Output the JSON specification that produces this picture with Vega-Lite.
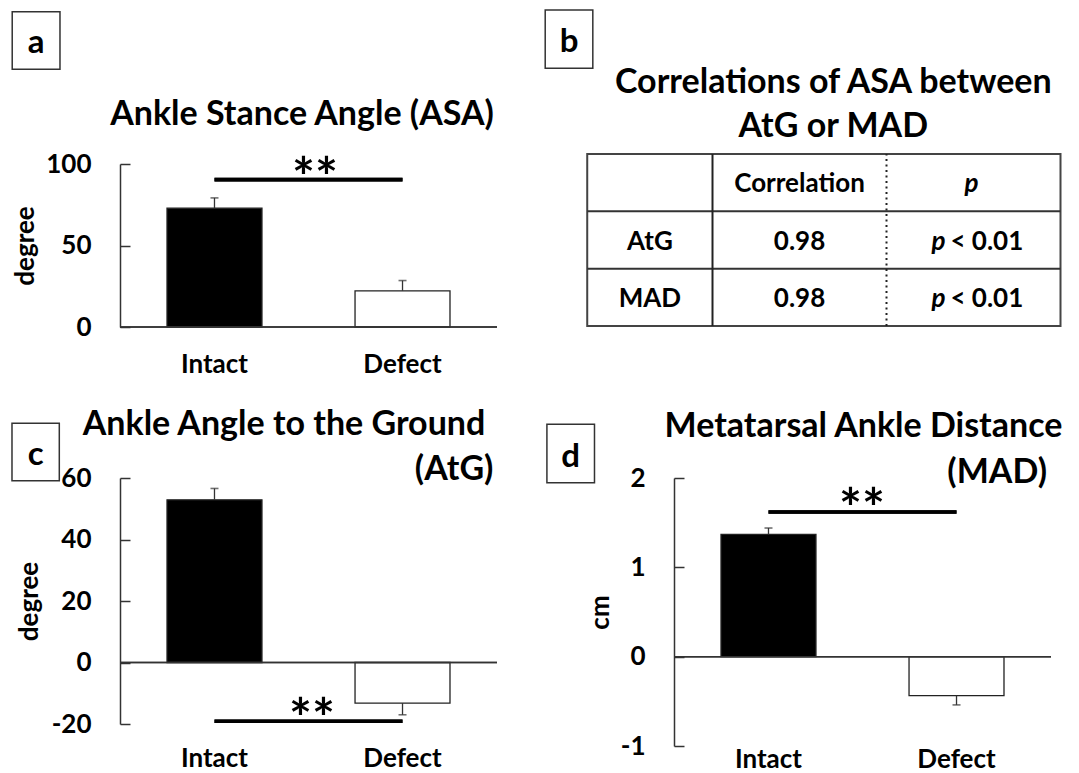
{
  "$schema": "https://vega.github.io/schema/vega-lite/v6.json",
  "background": "white",
  "padding": {"left": 11, "top": 9, "right": 0, "bottom": 0},
  "columns": 2,
  "bounds": "flush",
  "align": "each",
  "spacing": {"row": 151, "column": 177},
  "config": {
    "view": {"stroke": null},
    "font": "Lato",
    "text": {"font": "Lato", "fontWeight": "bold", "color": "black"},
    "axis": {
      "labelFont": "Lato", "labelFontWeight": "bold", "labelFontSize": 26, "labelColor": "black",
      "titleFont": "Lato", "titleFontWeight": "bold", "titleFontSize": 26, "titleColor": "black",
      "grid": false, "domainColor": "#333", "domainWidth": 1.5, "tickColor": "#333", "tickWidth": 1.5
    },
    "axisY": {"tickSize": -10, "labelPadding": 39, "titleBaseline": "alphabetic", "labelExpr": "'' + datum.value"},
    "axisX": {"domain": false, "ticks": false, "labelPadding": 24, "labelAngle": 0}
  },
  "datasets": {
    "asa": [
      {"group": "Intact", "mean": 72.9, "errEnd": 79.2},
      {"group": "Defect", "mean": 22.2, "errEnd": 28.5}
    ],
    "atg": [
      {"group": "Intact", "mean": 52.9, "errEnd": 56.6},
      {"group": "Defect", "mean": -13.2, "errEnd": -17.0}
    ],
    "mad": [
      {"group": "Intact", "mean": 1.37, "errEnd": 1.44},
      {"group": "Defect", "mean": -0.437, "errEnd": -0.54}
    ],
    "correlations": [
      {"row": "AtG", "metric": "AtG", "r": 0.98, "pSymbol": "p", "pValue": "< 0.01"},
      {"row": "MAD", "metric": "MAD", "r": 0.98, "pSymbol": "p", "pValue": "< 0.01"}
    ]
  },
  "concat": [
    {
      "width": 377, "height": 163,
      "layer": [
        {
          "data": {"name": "asa"},
          "layer": [
            {"mark": {"type": "bar", "stroke": "#222", "strokeWidth": 1.3},
             "encoding": {
               "x": {"field": "group", "type": "nominal", "sort": ["Intact", "Defect"], "scale": {"domain": ["Intact", "Defect"], "paddingInner": 0.495, "paddingOuter": 0.25}, "axis": {"title": null}},
               "y": {"field": "mean", "type": "quantitative", "scale": {"domain": [0, 100], "nice": false}, "axis": {"values": [0, 50, 100], "title": "degree", "titleX": -87}},
               "fill": {"field": "group", "type": "nominal", "scale": {"domain": ["Intact", "Defect"], "range": ["#000000", "#ffffff"]}, "legend": null}
             }},
            {"mark": {"type": "rule", "color": "#333", "strokeWidth": 1.3},
             "encoding": {"x": {"field": "group", "type": "nominal", "sort": ["Intact", "Defect"]}, "y": {"field": "mean", "type": "quantitative"}, "y2": {"field": "errEnd"}}},
            {"mark": {"type": "tick", "color": "#333", "thickness": 1.6, "size": 8},
             "encoding": {"x": {"field": "group", "type": "nominal", "sort": ["Intact", "Defect"]}, "y": {"field": "errEnd", "type": "quantitative"}}},
            {"mark": {"type": "rule", "color": "#333", "strokeWidth": 1.5}, "encoding": {"y": {"datum": 0}}},
            {"mark": {"type": "rule", "color": "black", "strokeWidth": 3.6},
             "encoding": {"x": {"datum": "Intact"}, "x2": {"datum": "Defect"}, "y": {"datum": 90.4}}}
          ]
        },
        {
          "data": {"values": [{"panel": "a", "title": "Ankle Stance Angle (ASA)", "sig": "**"}]},
          "layer": [
            {"mark": {"type": "rect", "fill": "white", "stroke": "#333", "strokeWidth": 1.5},
             "encoding": {
               "x": {"datum": -0.2859, "type": "quantitative", "scale": {"domain": [0, 1], "nice": false, "zero": false}, "axis": null},
               "x2": {"datum": -0.1592},
               "y": {"datum": 1.9344, "type": "quantitative", "scale": {"domain": [0, 1], "nice": false, "zero": false}, "axis": null},
               "y2": {"datum": 1.581}
             }},
            {"mark": {"type": "text", "fontSize": 33, "align": "center", "baseline": "alphabetic"},
             "encoding": {"x": {"datum": -0.2225, "type": "quantitative"}, "y": {"datum": 1.681, "type": "quantitative"}, "text": {"field": "panel"}}},
            {"mark": {"type": "text", "fontSize": 34, "align": "center", "baseline": "alphabetic"},
             "encoding": {"x": {"datum": 0.4828, "type": "quantitative"}, "y": {"datum": 1.2393, "type": "quantitative"}, "text": {"field": "title"}}},
            {"mark": {"type": "text", "fontSize": 54, "align": "center", "baseline": "alphabetic"},
             "encoding": {"x": {"datum": 0.5172, "type": "quantitative"}, "y": {"datum": 0.8037, "type": "quantitative"}, "text": {"field": "sig"}}}
          ]
        }
      ],
      "resolve": {"scale": {"x": "independent", "y": "independent"}}
    },
    {
      "width": 377, "height": 163,
      "layer": [
        {
          "data": {"values": [{"panel": "b", "title1": "Correlations of ASA between", "title2": "AtG or MAD"}]},
          "layer": [
            {"mark": {"type": "rect", "fillOpacity": 0, "stroke": "#444", "strokeWidth": 2},
             "encoding": {
               "x": {"datum": -0.72, "type": "quantitative", "scale": {"domain": [-0.2213, 1.9454], "nice": false, "zero": false}, "axis": null},
               "x2": {"datum": 2},
               "y": {"datum": 0, "type": "quantitative", "scale": {"domain": [-0.0174, 2.8257], "nice": false, "zero": false}, "axis": null},
               "y2": {"datum": 3}
             }},
            {"mark": {"type": "rule", "color": "#333", "strokeWidth": 2},
             "encoding": {"x": {"datum": -0.72, "type": "quantitative"}, "x2": {"datum": 2}, "y": {"datum": 1, "type": "quantitative"}}},
            {"mark": {"type": "rule", "color": "#333", "strokeWidth": 2},
             "encoding": {"x": {"datum": -0.72, "type": "quantitative"}, "x2": {"datum": 2}, "y": {"datum": 2, "type": "quantitative"}}},
            {"mark": {"type": "rule", "color": "#222", "strokeWidth": 2},
             "encoding": {"x": {"datum": 0, "type": "quantitative"}, "y": {"datum": 0, "type": "quantitative"}, "y2": {"datum": 3}}},
            {"mark": {"type": "rule", "color": "#222", "strokeWidth": 2, "strokeDash": [2, 3.5]},
             "encoding": {"x": {"datum": 1, "type": "quantitative"}, "y": {"datum": 0, "type": "quantitative"}, "y2": {"datum": 3}}},
            {"mark": {"type": "rect", "fill": "white", "stroke": "#333", "strokeWidth": 1.5},
             "encoding": {"x": {"datum": -0.9615, "type": "quantitative"}, "x2": {"datum": -0.6879}, "y": {"datum": 5.512, "type": "quantitative"}, "y2": {"datum": 4.495}}},
            {"mark": {"type": "text", "fontSize": 33, "align": "center", "baseline": "alphabetic"},
             "encoding": {"x": {"datum": -0.8247, "type": "quantitative"}, "y": {"datum": 4.785, "type": "quantitative"}, "text": {"field": "panel"}}},
            {"mark": {"type": "text", "fontSize": 34, "align": "center", "baseline": "alphabetic"},
             "encoding": {"x": {"datum": 0.6943, "type": "quantitative"}, "y": {"datum": 4.059, "type": "quantitative"}, "text": {"field": "title1"}}},
            {"mark": {"type": "text", "fontSize": 34, "align": "center", "baseline": "alphabetic"},
             "encoding": {"x": {"datum": 0.6943, "type": "quantitative"}, "y": {"datum": 3.291, "type": "quantitative"}, "text": {"field": "title2"}}}
          ]
        },
        {
          "layer": [
            {"data": {"name": "correlations"},
             "mark": {"type": "text", "fontSize": 26, "align": "center", "baseline": "middle", "dy": 2},
             "encoding": {
               "x": {"datum": -0.36, "type": "quantitative"},
               "y": {"field": "row", "type": "nominal", "scale": {"type": "point", "domain": ["Header", "AtG", "MAD"], "padding": 0.4174, "align": 0.385}, "axis": null},
               "text": {"field": "metric"}
             }},
            {"data": {"name": "correlations"},
             "mark": {"type": "text", "fontSize": 26, "align": "center", "baseline": "middle", "dy": 2},
             "encoding": {"x": {"datum": 0.5, "type": "quantitative"}, "y": {"field": "row", "type": "nominal"}, "text": {"field": "r", "type": "quantitative", "format": ".2f"}}},
            {"data": {"name": "correlations"},
             "mark": {"type": "text", "fontSize": 26, "fontStyle": "italic", "align": "right", "baseline": "middle", "dy": 2},
             "encoding": {"x": {"datum": 1.3385, "type": "quantitative"}, "y": {"field": "row", "type": "nominal"}, "text": {"field": "pSymbol"}}},
            {"data": {"name": "correlations"},
             "mark": {"type": "text", "fontSize": 26, "align": "left", "baseline": "middle", "dy": 2, "dx": 5},
             "encoding": {"x": {"datum": 1.3385, "type": "quantitative"}, "y": {"field": "row", "type": "nominal"}, "text": {"field": "pValue"}}},
            {"data": {"values": [{"row": "Header", "label": "Correlation"}]},
             "mark": {"type": "text", "fontSize": 26, "align": "center", "baseline": "middle", "dy": 2},
             "encoding": {"x": {"datum": 0.5, "type": "quantitative"}, "y": {"field": "row", "type": "nominal"}, "text": {"field": "label"}}},
            {"data": {"values": [{"row": "Header", "label": "p"}]},
             "mark": {"type": "text", "fontSize": 26, "fontStyle": "italic", "align": "center", "baseline": "middle", "dy": 2},
             "encoding": {"x": {"datum": 1.489, "type": "quantitative"}, "y": {"field": "row", "type": "nominal"}, "text": {"field": "label"}}}
          ]
        }
      ],
      "resolve": {"scale": {"y": "independent"}}
    },
    {
      "width": 377, "height": 246,
      "layer": [
        {
          "data": {"name": "atg"},
          "layer": [
            {"mark": {"type": "bar", "stroke": "#222", "strokeWidth": 1.3},
             "encoding": {
               "x": {"field": "group", "type": "nominal", "sort": ["Intact", "Defect"], "scale": {"domain": ["Intact", "Defect"], "paddingInner": 0.495, "paddingOuter": 0.25}, "axis": {"title": null, "labelPadding": 21}},
               "y": {"field": "mean", "type": "quantitative", "scale": {"domain": [-20, 60], "nice": false}, "axis": {"values": [-20, 0, 20, 40, 60], "title": "degree", "titleX": -83}},
               "fill": {"field": "group", "type": "nominal", "scale": {"domain": ["Intact", "Defect"], "range": ["#000000", "#ffffff"]}, "legend": null}
             }},
            {"mark": {"type": "rule", "color": "#333", "strokeWidth": 1.3},
             "encoding": {"x": {"field": "group", "type": "nominal", "sort": ["Intact", "Defect"]}, "y": {"field": "mean", "type": "quantitative"}, "y2": {"field": "errEnd"}}},
            {"mark": {"type": "tick", "color": "#333", "thickness": 1.6, "size": 8},
             "encoding": {"x": {"field": "group", "type": "nominal", "sort": ["Intact", "Defect"]}, "y": {"field": "errEnd", "type": "quantitative"}}},
            {"mark": {"type": "rule", "color": "#333", "strokeWidth": 1.5}, "encoding": {"y": {"datum": 0}}},
            {"mark": {"type": "rule", "color": "black", "strokeWidth": 3.6},
             "encoding": {"x": {"datum": "Intact"}, "x2": {"datum": "Defect"}, "y": {"datum": -19.1}}}
          ]
        },
        {
          "data": {"values": [{"panel": "c", "title": "Ankle Angle to the Ground", "title2": "(AtG)", "sig": "**"}]},
          "layer": [
            {"mark": {"type": "rect", "fill": "white", "stroke": "#333", "strokeWidth": 1.5},
             "encoding": {
               "x": {"datum": -0.2865, "type": "quantitative", "scale": {"domain": [0, 1], "nice": false, "zero": false}, "axis": null},
               "x2": {"datum": -0.161},
               "y": {"datum": 1.2224, "type": "quantitative", "scale": {"domain": [0, 1], "nice": false, "zero": false}, "axis": null},
               "y2": {"datum": 0.989}
             }},
            {"mark": {"type": "text", "fontSize": 33, "align": "center", "baseline": "alphabetic"},
             "encoding": {"x": {"datum": -0.2239, "type": "quantitative"}, "y": {"datum": 1.0528, "type": "quantitative"}, "text": {"field": "panel"}}},
            {"mark": {"type": "text", "fontSize": 34, "align": "center", "baseline": "alphabetic"},
             "encoding": {"x": {"datum": 0.435, "type": "quantitative"}, "y": {"datum": 1.1748, "type": "quantitative"}, "text": {"field": "title"}}},
            {"mark": {"type": "text", "fontSize": 34, "align": "right", "baseline": "alphabetic"},
             "encoding": {"x": {"datum": 0.9905, "type": "quantitative"}, "y": {"datum": 0.9919, "type": "quantitative"}, "text": {"field": "title2"}}},
            {"mark": {"type": "text", "fontSize": 54, "align": "center", "baseline": "alphabetic"},
             "encoding": {"x": {"datum": 0.5093, "type": "quantitative"}, "y": {"datum": -0.0545, "type": "quantitative"}, "text": {"field": "sig"}}}
          ]
        }
      ],
      "resolve": {"scale": {"x": "independent", "y": "independent"}}
    },
    {
      "width": 377, "height": 268,
      "layer": [
        {
          "data": {"name": "mad"},
          "layer": [
            {"mark": {"type": "bar", "stroke": "#222", "strokeWidth": 1.3},
             "encoding": {
               "x": {"field": "group", "type": "nominal", "sort": ["Intact", "Defect"], "scale": {"domain": ["Intact", "Defect"], "paddingInner": 0.495, "paddingOuter": 0.25}, "axis": {"title": null, "labelPadding": 0}},
               "y": {"field": "mean", "type": "quantitative", "scale": {"domain": [-1, 2], "nice": false}, "axis": {"values": [-1, 0, 1, 2], "title": "cm", "titleX": -66}},
               "fill": {"field": "group", "type": "nominal", "scale": {"domain": ["Intact", "Defect"], "range": ["#000000", "#ffffff"]}, "legend": null}
             }},
            {"mark": {"type": "rule", "color": "#333", "strokeWidth": 1.3},
             "encoding": {"x": {"field": "group", "type": "nominal", "sort": ["Intact", "Defect"]}, "y": {"field": "mean", "type": "quantitative"}, "y2": {"field": "errEnd"}}},
            {"mark": {"type": "tick", "color": "#333", "thickness": 1.6, "size": 8},
             "encoding": {"x": {"field": "group", "type": "nominal", "sort": ["Intact", "Defect"]}, "y": {"field": "errEnd", "type": "quantitative"}}},
            {"mark": {"type": "rule", "color": "#333", "strokeWidth": 1.5}, "encoding": {"y": {"datum": 0}}},
            {"mark": {"type": "rule", "color": "black", "strokeWidth": 3.6},
             "encoding": {"x": {"datum": "Intact"}, "x2": {"datum": "Defect"}, "y": {"datum": 1.62}}}
          ]
        },
        {
          "data": {"values": [{"panel": "d", "title": "Metatarsal Ankle Distance", "title2": "(MAD)", "sig": "**"}]},
          "layer": [
            {"mark": {"type": "rect", "fill": "white", "stroke": "#333", "strokeWidth": 1.5},
             "encoding": {
               "x": {"datum": -0.3371, "type": "quantitative", "scale": {"domain": [0, 1], "nice": false, "zero": false}, "axis": null},
               "x2": {"datum": -0.2109},
               "y": {"datum": 1.2004, "type": "quantitative", "scale": {"domain": [0, 1], "nice": false, "zero": false}, "axis": null},
               "y2": {"datum": 0.9825}
             }},
            {"mark": {"type": "text", "fontSize": 33, "align": "center", "baseline": "alphabetic"},
             "encoding": {"x": {"datum": -0.274, "type": "quantitative"}, "y": {"datum": 1.0422, "type": "quantitative"}, "text": {"field": "panel"}}},
            {"mark": {"type": "text", "fontSize": 34, "align": "center", "baseline": "alphabetic"},
             "encoding": {"x": {"datum": 0.5027, "type": "quantitative"}, "y": {"datum": 1.1541, "type": "quantitative"}, "text": {"field": "title"}}},
            {"mark": {"type": "text", "fontSize": 34, "align": "right", "baseline": "alphabetic"},
             "encoding": {"x": {"datum": 0.9894, "type": "quantitative"}, "y": {"datum": 0.9802, "type": "quantitative"}, "text": {"field": "title2"}}},
            {"mark": {"type": "text", "fontSize": 54, "align": "center", "baseline": "alphabetic"},
             "encoding": {"x": {"datum": 0.4987, "type": "quantitative"}, "y": {"datum": 0.8157, "type": "quantitative"}, "text": {"field": "sig"}}}
          ]
        }
      ],
      "resolve": {"scale": {"x": "independent", "y": "independent"}}
    }
  ]
}
